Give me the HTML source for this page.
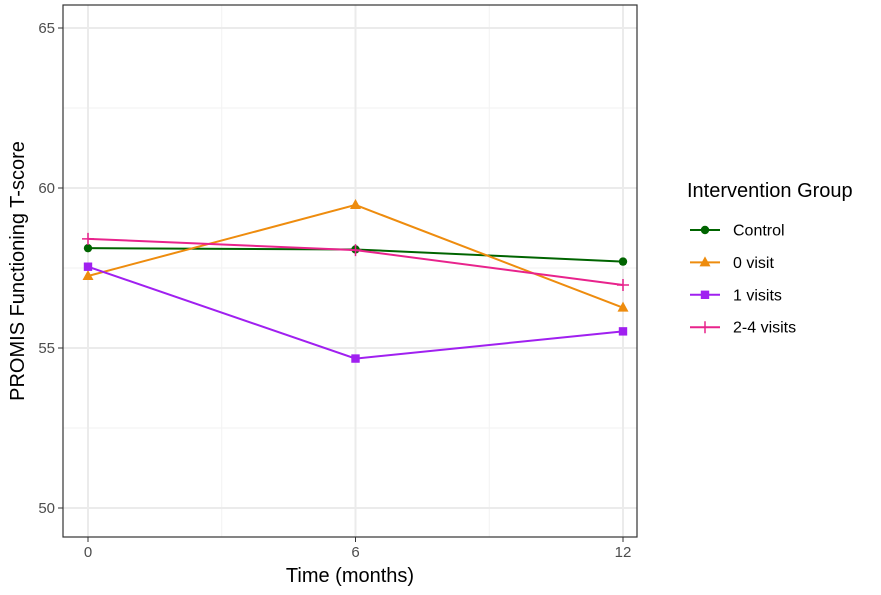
<!DOCTYPE html>
<html><head><meta charset="utf-8"><style>
body{margin:0;background:#fff;font-family:"Liberation Sans",Arial,sans-serif}
</style></head><body>
<svg id="chart" width="881" height="590" xmlns="http://www.w3.org/2000/svg">
<rect width="881" height="590" fill="#fff"/>
<g id="grid"></g>
<g id="series"></g>
<rect x="63" y="5" width="574" height="532" fill="none" stroke="#333" stroke-width="1.2"/>
<g id="axes" font-size="15" fill="#4d4d4d"></g>
<text x="350" y="582" text-anchor="middle" font-size="20" fill="#000">Time (months)</text>
<text transform="translate(24,271) rotate(-90)" text-anchor="middle" font-size="20" fill="#000">PROMIS Functioning T-score</text>
<g id="legend">
<text x="687" y="197" font-size="20" fill="#000">Intervention Group</text>
</g>
</svg>
<script>
const times=[0,6,12];
const seriesNames=["Control","0 visit","1 visits","2-4 visits"];
const control=[58.12,58.08,57.7];
const visit0=[57.25,59.47,56.26];
const visit1=[57.54,54.67,55.52];
const visit24=[58.41,58.06,56.97];
const yTicks=[50,55,60,65];
const xTicks=[0,6,12];
const colors=["#006400","#ee8c0e","#a020f0","#e8238c"];
const shapes=["circle","triangle","square","plus"];
const allSeries=[control,visit0,visit1,visit24];
const NS="http://www.w3.org/2000/svg";
const X=v=>88+v*(623-88)/12;
const Y=v=>508-(v-50)*32;
function mk(tag,attrs,parent){const e=document.createElementNS(NS,tag);for(const k in attrs)e.setAttribute(k,attrs[k]);parent.appendChild(e);return e;}
const grid=document.getElementById('grid');
[52.5,57.5,62.5].forEach(v=>{const l=mk('line',{x1:63,x2:637,y1:Y(v),y2:Y(v),stroke:'#f2f2f2','stroke-width':1},grid);

});
[3,9].forEach(v=>{const l=mk('line',{x1:X(v),x2:X(v),y1:5,y2:537,stroke:'#f2f2f2','stroke-width':1},grid);

});
yTicks.forEach(v=>{const l=mk('line',{x1:63,x2:637,y1:Y(v),y2:Y(v),stroke:'#ebebeb','stroke-width':2},grid);

});
xTicks.forEach(v=>{const l=mk('line',{x1:X(v),x2:X(v),y1:5,y2:537,stroke:'#ebebeb','stroke-width':2},grid);

});
const axes=document.getElementById('axes');
yTicks.forEach(v=>{mk('line',{x1:58,x2:63,y1:Y(v),y2:Y(v),stroke:'#333'},axes);
const t=mk('text',{x:55,y:Y(v)+5,'text-anchor':'end'},axes);t.textContent=v;

});
xTicks.forEach(v=>{mk('line',{x1:X(v),x2:X(v),y1:537,y2:542,stroke:'#333'},axes);
const t=mk('text',{x:X(v),y:557,'text-anchor':'middle'},axes);t.textContent=v;

});
function marker(shape,x,y,c,parent){
 if(shape==='circle')return mk('circle',{cx:x,cy:y,r:4.2,fill:c},parent);
 if(shape==='triangle')return mk('polygon',{points:`${x},${y-6} ${x-5.5},${y+4} ${x+5.5},${y+4}`,fill:c},parent);
 if(shape==='square')return mk('rect',{x:x-4.2,y:y-4.2,width:8.4,height:8.4,fill:c},parent);
 return mk('path',{d:`M${x-6} ${y}H${x+6}M${x} ${y-6}V${y+6}`,stroke:c,'stroke-width':1.5,fill:'none'},parent);
}
const sg=document.getElementById('series');
allSeries.forEach((vals,i)=>{
 const g=mk('g',{},sg);
 
 
 const p=mk('polyline',{points:vals.map((v,j)=>X(times[j])+','+Y(v)).join(' '),fill:'none',stroke:colors[i],'stroke-width':2},g);
 
 
 vals.forEach((v,j)=>{const m=marker(shapes[i],X(times[j]),Y(v),colors[i],g);
 
 });
});
const lg=document.getElementById('legend');
seriesNames.forEach((n,i)=>{
 const y=230+i*32.4;
 const g=mk('g',{},lg);
 
 
 mk('line',{x1:690,x2:720,y1:y,y2:y,stroke:colors[i],'stroke-width':2},g);
 marker(shapes[i],705,y,colors[i],g);
 const t=mk('text',{x:733,y:y+5.5,'font-size':16,fill:'#000'},g);t.textContent=n;
});
</script>
</body></html>
